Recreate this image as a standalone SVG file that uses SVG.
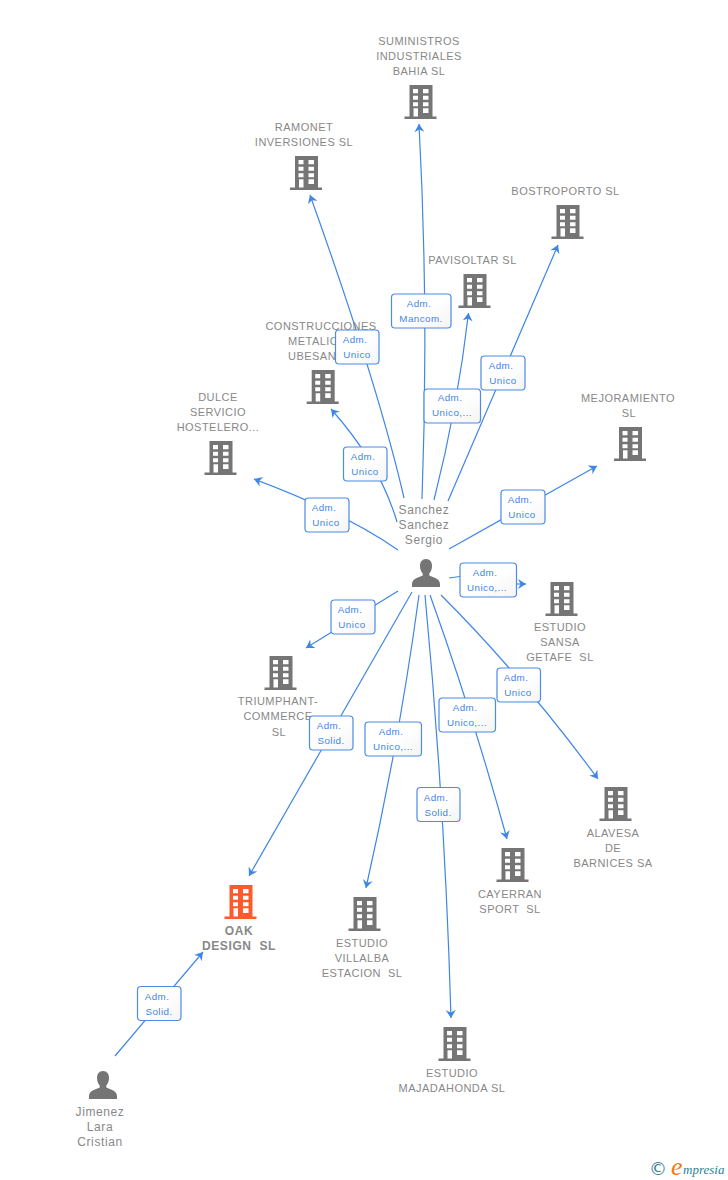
<svg xmlns="http://www.w3.org/2000/svg" width="728" height="1180" viewBox="0 0 728 1180">
<style>
text{font-family:"Liberation Sans",Arial,sans-serif;white-space:pre}
.n{font-size:11px;fill:#888;text-anchor:middle;letter-spacing:.47px}
.p{font-size:12px;fill:#888;text-anchor:middle;letter-spacing:.6px}
.o{font-size:12px;font-weight:bold;fill:#888;text-anchor:middle;letter-spacing:.6px}
.e{fill:none;stroke:#3f86e6;stroke-width:1.2;marker-end:url(#a)}
.l{fill:none;stroke:#3f86e6;stroke-width:1.2}
.b{fill:url(#g);stroke:#4a8ce6;stroke-width:1.2}
.t{font-size:9.8px;fill:#3f86e6;text-anchor:middle;letter-spacing:.45px}
</style>
<defs>
<linearGradient id="g" x1="0" y1="0" x2="1" y2="1"><stop offset="0" stop-color="#fff"/><stop offset=".5" stop-color="#fff"/><stop offset="1" stop-color="#f4f4f4"/></linearGradient>
<marker id="a" markerUnits="userSpaceOnUse" markerWidth="12" markerHeight="12" refX="8" refY="5" orient="auto"><path d="M0 0L8 5L0 10L2.500 5Z" fill="#3f86e6"/></marker>
<symbol id="bld" viewBox="0 0 32 34" overflow="visible">
<path fill-rule="evenodd" d="M5 0H28V31.500H32V34H0V31.500H5ZM8.500 4V8.300H13.500V4ZM18.500 4V8.300H24V4ZM8.500 10.700V14.700H13.500V10.700ZM18.500 10.700V14.700H24V10.700ZM8.500 17.300V21.300H13.500V17.300ZM18.500 17.300V21.300H24V17.300ZM9 23.300V31.500H13.500V23.300ZM18.500 23.300V28H24V23.300Z"/>
</symbol>
<symbol id="per" viewBox="0 0 28 28" overflow="visible">
<path d="M14 0C18 0 20 3 20 7C20 10.500 18.600 13 17.300 14.500V16.500C19 18 28 19 28 25V28H0V25C0 19 9 18 10.700 16.500V14.500C9.400 13 8 10.500 8 7C8 3 10 0 14 0Z"/>
</symbol>
</defs>
<g id="connectors">
<path class="e" d="M422 499Q429 311 419 124"/>
<path class="e" d="M404 498Q378 385 310 195"/>
<path class="e" d="M448 501L558 245"/>
<path class="e" d="M434 500Q458 405 468.500 313"/>
<path class="e" d="M397 522Q380 464 331 409"/>
<path class="e" d="M398 550Q345 513 254 479"/>
<path class="e" d="M449 549L597 466"/>
<path class="l" d="M449 578L460 576.500"/>
<path class="e" d="M516 584L526 584"/>
<path class="e" d="M441 595Q522 676 598 779"/>
<path class="e" d="M430 595Q472 712 507 839"/>
<path class="e" d="M425 595Q445 806 451 1018"/>
<path class="e" d="M419 595Q399.500 740 366 888"/>
<path class="e" d="M412 592L249 876"/>
<path class="e" d="M398 591L306 648"/>
<path class="e" d="M115 1056L203 952"/>
</g>
<g id="n-suministros" fill="#757575"><use href="#bld" x="404.500" y="85" width="32" height="34"/><text class="n" x="419" y="45">SUMINISTROS</text><text class="n" x="419" y="60">INDUSTRIALES</text><text class="n" x="419" y="75">BAHIA SL</text></g>
<g id="n-ramonet" fill="#757575"><use href="#bld" x="290" y="156" width="32" height="34"/><text class="n" x="304" y="131">RAMONET</text><text class="n" x="304" y="146">INVERSIONES SL</text></g>
<g id="n-bostroporto" fill="#757575"><use href="#bld" x="551.500" y="205" width="32" height="34"/><text class="n" x="565.500" y="195">BOSTROPORTO SL</text></g>
<g id="n-pavisoltar" fill="#757575"><use href="#bld" x="458.500" y="274" width="32" height="34"/><text class="n" x="472.500" y="264">PAVISOLTAR SL</text></g>
<g id="n-construcciones" fill="#757575"><use href="#bld" x="306.700" y="370" width="32" height="34"/><text class="n" x="321" y="330">CONSTRUCCIONES</text><text class="n" x="321" y="345">METALICAS</text><text class="n" x="321" y="360">UBESAN SL</text></g>
<g id="n-dulce" fill="#757575"><use href="#bld" x="204.500" y="441" width="32" height="34"/><text class="n" x="218" y="401">DULCE</text><text class="n" x="218" y="416">SERVICIO</text><text class="n" x="218" y="431">HOSTELERO...</text></g>
<g id="n-mejoramiento" fill="#757575"><use href="#bld" x="614" y="427" width="32" height="34"/><text class="n" x="628" y="402">MEJORAMIENTO</text><text class="n" x="629" y="417">SL</text></g>
<g id="n-sansa" fill="#757575"><use href="#bld" x="545.500" y="582" width="32" height="34"/><text class="n" x="560" y="631">ESTUDIO</text><text class="n" x="560" y="646">SANSA</text><text class="n" x="560" y="661">GETAFE  SL</text></g>
<g id="n-triumphant" fill="#757575"><use href="#bld" x="264.500" y="656" width="32" height="34"/><text class="n" x="278" y="705">TRIUMPHANT-</text><text class="n" x="278" y="720">COMMERCE</text><text class="n" x="279" y="736">SL</text></g>
<g id="n-alavesa" fill="#757575"><use href="#bld" x="599.500" y="787" width="32" height="34"/><text class="n" x="613" y="837">ALAVESA</text><text class="n" x="613" y="852">DE</text><text class="n" x="613" y="867">BARNICES SA</text></g>
<g id="n-cayerran" fill="#757575"><use href="#bld" x="496.500" y="848" width="32" height="34"/><text class="n" x="510" y="898">CAYERRAN</text><text class="n" x="510" y="913">SPORT  SL</text></g>
<g id="n-villalba" fill="#757575"><use href="#bld" x="348.500" y="897" width="32" height="34"/><text class="n" x="362" y="947">ESTUDIO</text><text class="n" x="362" y="962">VILLALBA</text><text class="n" x="362" y="977">ESTACION  SL</text></g>
<g id="n-majadahonda" fill="#757575"><use href="#bld" x="438.500" y="1027" width="32" height="34"/><text class="n" x="452" y="1077">ESTUDIO</text><text class="n" x="452" y="1092">MAJADAHONDA SL</text></g>
<g id="n-oak" fill="#ff5a2b"><use href="#bld" x="224.500" y="885" width="32" height="34"/><text class="o" x="239" y="935">OAK</text><text class="o" x="239" y="950">DESIGN  SL</text></g>
<g id="n-sanchez" fill="#757575"><use href="#per" x="412" y="559" width="28" height="28"/><text class="p" x="424" y="513.500">Sanchez</text><text class="p" x="424" y="528.500">Sanchez</text><text class="p" x="424" y="544">Sergio</text></g>
<g id="n-jimenez" fill="#757575"><use href="#per" x="89" y="1071" width="28" height="28"/><text class="p" x="100" y="1116">Jimenez</text><text class="p" x="100" y="1131">Lara</text><text class="p" x="100" y="1146">Cristian</text></g>
<g id="edge-labels">
<rect class="b" x="391.500" y="294" width="59.500" height="34" rx="3.500"/><text class="t" x="419" y="307">Adm.</text><text class="t" x="421" y="322">Mancom.</text>
<rect class="b" x="335.500" y="330" width="43.500" height="34" rx="3.500"/><text class="t" x="355" y="343">Adm.</text><text class="t" x="357" y="358">Unico</text>
<rect class="b" x="424" y="389" width="56.500" height="34" rx="3.500"/><text class="t" x="450" y="401">Adm.</text><text class="t" x="452" y="416">Unico,...</text>
<rect class="b" x="481" y="356" width="44" height="34" rx="3.500"/><text class="t" x="501" y="369">Adm.</text><text class="t" x="503" y="384">Unico</text>
<rect class="b" x="343.500" y="447" width="43.500" height="34" rx="3.500"/><text class="t" x="363" y="460">Adm.</text><text class="t" x="365" y="475">Unico</text>
<rect class="b" x="305" y="498" width="44" height="34" rx="3.500"/><text class="t" x="324" y="511">Adm.</text><text class="t" x="326" y="526">Unico</text>
<rect class="b" x="501" y="490" width="44" height="34" rx="3.500"/><text class="t" x="520" y="503">Adm.</text><text class="t" x="522" y="518">Unico</text>
<rect class="b" x="460" y="563" width="56.500" height="34" rx="3.500"/><text class="t" x="485" y="576">Adm.</text><text class="t" x="487" y="591">Unico,...</text>
<rect class="b" x="331" y="600" width="44" height="34" rx="3.500"/><text class="t" x="350" y="613">Adm.</text><text class="t" x="352" y="628">Unico</text>
<rect class="b" x="497" y="668" width="43.500" height="34" rx="3.500"/><text class="t" x="516" y="681">Adm.</text><text class="t" x="518" y="696">Unico</text>
<rect class="b" x="439" y="698" width="56.500" height="34" rx="3.500"/><text class="t" x="465" y="711">Adm.</text><text class="t" x="467" y="726">Unico,...</text>
<rect class="b" x="309.500" y="716" width="43.500" height="34" rx="3.500"/><text class="t" x="329" y="729">Adm.</text><text class="t" x="331" y="744">Solid.</text>
<rect class="b" x="365" y="722" width="56.500" height="34" rx="3.500"/><text class="t" x="391" y="735">Adm.</text><text class="t" x="393" y="750">Unico,...</text>
<rect class="b" x="417" y="787.500" width="43" height="34" rx="3.500"/><text class="t" x="436" y="801">Adm.</text><text class="t" x="438" y="816">Solid.</text>
<rect class="b" x="137.500" y="986.500" width="43.500" height="34" rx="3.500"/><text class="t" x="157" y="1000">Adm.</text><text class="t" x="159" y="1015">Solid.</text>
</g>
<g id="logo">
<text x="649" y="1175" font-size="18" fill="#3d7d93" style="font-family:'DejaVu Sans',sans-serif">©</text>
<text x="671" y="1175" font-size="26" font-style="italic" fill="#f47a16" style="font-family:'Liberation Serif',serif">e</text>
<text x="683" y="1174" font-size="13" font-style="italic" fill="#2c7f92" style="font-family:'Liberation Serif',serif">mpresia</text>
</g>
</svg>
